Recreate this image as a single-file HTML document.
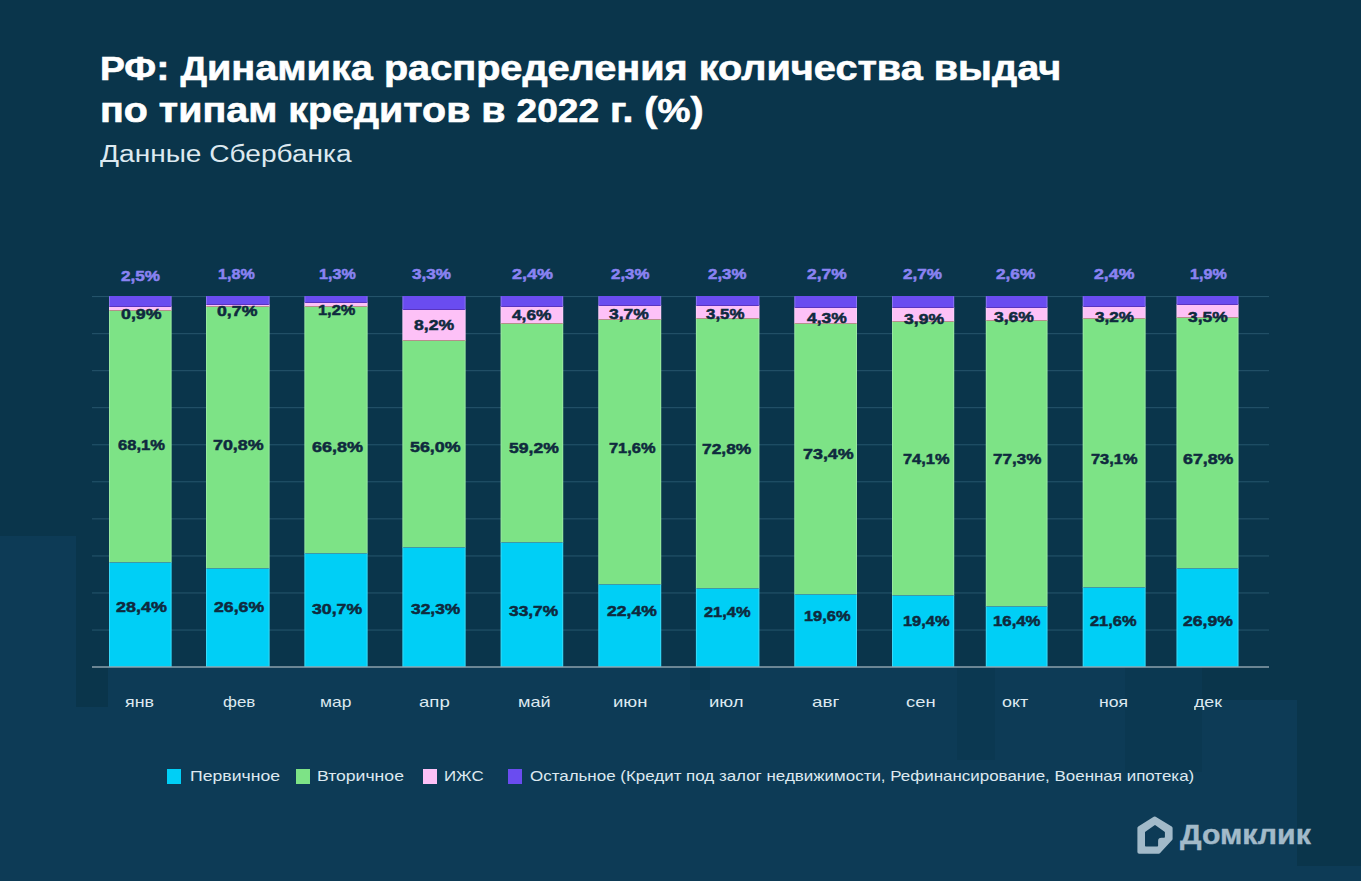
<!DOCTYPE html>
<html><head><meta charset="utf-8"><style>
html,body{margin:0;padding:0;}
body{width:1361px;height:881px;overflow:hidden;background:#0a354b;position:relative;font-family:"Liberation Sans",sans-serif;}
svg{position:absolute;left:0;top:0;}
.cp{font-size:0.94em;}
.tx{position:absolute;line-height:40px;white-space:nowrap;transform-origin:0 0;}
.sq{position:absolute;top:769px;width:14px;height:14.5px;}
</style></head><body>
<svg width="1361" height="881" viewBox="0 0 1361 881">
<rect x="0" y="536" width="76" height="345" fill="#0d3b56"/><rect x="76" y="707" width="1126" height="174" fill="#0d3b56"/><rect x="108" y="667" width="1094" height="40" fill="#0d3b56"/><rect x="1202" y="700" width="95" height="181" fill="#0d3b56"/><rect x="1297" y="866" width="64" height="15" fill="#0d3b56"/><rect x="957" y="667" width="38" height="93" fill="#0b3851"/><rect x="1125" y="667" width="77" height="105" fill="#0b3851"/><rect x="690" y="667" width="20" height="23" fill="#0b3851"/><rect x="92" y="296.0" width="1177" height="1.1" fill="#24536a"/><rect x="92" y="333.1" width="1177" height="1.1" fill="#24536a"/><rect x="92" y="370.1" width="1177" height="1.1" fill="#24536a"/><rect x="92" y="407.1" width="1177" height="1.1" fill="#24536a"/><rect x="92" y="444.2" width="1177" height="1.1" fill="#24536a"/><rect x="92" y="481.2" width="1177" height="1.1" fill="#24536a"/><rect x="92" y="518.3" width="1177" height="1.1" fill="#24536a"/><rect x="92" y="555.4" width="1177" height="1.1" fill="#24536a"/><rect x="92" y="592.4" width="1177" height="1.1" fill="#24536a"/><rect x="92" y="629.5" width="1177" height="1.1" fill="#24536a"/><rect x="109" y="562" width="62.6" height="105" fill="#00cff6"/><rect x="109" y="310" width="62.6" height="252" fill="#7de386"/><rect x="109" y="306" width="62.6" height="4" fill="#fdc1f7"/><rect x="109" y="296" width="62.6" height="10" fill="#6a4cf0"/><rect x="109" y="562" width="62.6" height="1" fill="#3d9aa6"/><rect x="109" y="310" width="62.6" height="1" fill="#b58f8a"/><rect x="109" y="306" width="62.6" height="1" fill="#5a34c0"/><rect x="109" y="296.5" width="1" height="370.0" fill="#ffffff" fill-opacity="0.22"/><rect x="170.6" y="296.5" width="1" height="370.0" fill="#ffffff" fill-opacity="0.22"/><rect x="206" y="568" width="63.6" height="99" fill="#00cff6"/><rect x="206" y="306" width="63.6" height="262" fill="#7de386"/><rect x="206" y="304" width="63.6" height="2" fill="#fdc1f7"/><rect x="206" y="296" width="63.6" height="8" fill="#6a4cf0"/><rect x="206" y="568" width="63.6" height="1" fill="#3d9aa6"/><rect x="206" y="306" width="63.6" height="1" fill="#b58f8a"/><rect x="206" y="304" width="63.6" height="1" fill="#5a34c0"/><rect x="206" y="296.5" width="1" height="370.0" fill="#ffffff" fill-opacity="0.22"/><rect x="268.6" y="296.5" width="1" height="370.0" fill="#ffffff" fill-opacity="0.22"/><rect x="304.4" y="553" width="63.2" height="114" fill="#00cff6"/><rect x="304.4" y="306" width="63.2" height="247" fill="#7de386"/><rect x="304.4" y="302" width="63.2" height="4" fill="#fdc1f7"/><rect x="304.4" y="296" width="63.2" height="6" fill="#6a4cf0"/><rect x="304.4" y="553" width="63.2" height="1" fill="#3d9aa6"/><rect x="304.4" y="306" width="63.2" height="1" fill="#b58f8a"/><rect x="304.4" y="302" width="63.2" height="1" fill="#5a34c0"/><rect x="304.4" y="296.5" width="1" height="370.0" fill="#ffffff" fill-opacity="0.22"/><rect x="366.6" y="296.5" width="1" height="370.0" fill="#ffffff" fill-opacity="0.22"/><rect x="402.4" y="547" width="63.2" height="120" fill="#00cff6"/><rect x="402.4" y="340" width="63.2" height="207" fill="#7de386"/><rect x="402.4" y="309" width="63.2" height="31" fill="#fdc1f7"/><rect x="402.4" y="296" width="63.2" height="13" fill="#6a4cf0"/><rect x="402.4" y="547" width="63.2" height="1" fill="#3d9aa6"/><rect x="402.4" y="340" width="63.2" height="1" fill="#b58f8a"/><rect x="402.4" y="309" width="63.2" height="1" fill="#5a34c0"/><rect x="402.4" y="296.5" width="1" height="370.0" fill="#ffffff" fill-opacity="0.22"/><rect x="464.6" y="296.5" width="1" height="370.0" fill="#ffffff" fill-opacity="0.22"/><rect x="500.6" y="542" width="62.6" height="125" fill="#00cff6"/><rect x="500.6" y="323" width="62.6" height="219" fill="#7de386"/><rect x="500.6" y="306" width="62.6" height="17" fill="#fdc1f7"/><rect x="500.6" y="296" width="62.6" height="10" fill="#6a4cf0"/><rect x="500.6" y="542" width="62.6" height="1" fill="#3d9aa6"/><rect x="500.6" y="323" width="62.6" height="1" fill="#b58f8a"/><rect x="500.6" y="306" width="62.6" height="1" fill="#5a34c0"/><rect x="500.6" y="296.5" width="1" height="370.0" fill="#ffffff" fill-opacity="0.22"/><rect x="562.2" y="296.5" width="1" height="370.0" fill="#ffffff" fill-opacity="0.22"/><rect x="598.3" y="584" width="62.9" height="83" fill="#00cff6"/><rect x="598.3" y="319" width="62.9" height="265" fill="#7de386"/><rect x="598.3" y="305" width="62.9" height="14" fill="#fdc1f7"/><rect x="598.3" y="296" width="62.9" height="9" fill="#6a4cf0"/><rect x="598.3" y="584" width="62.9" height="1" fill="#3d9aa6"/><rect x="598.3" y="319" width="62.9" height="1" fill="#b58f8a"/><rect x="598.3" y="305" width="62.9" height="1" fill="#5a34c0"/><rect x="598.3" y="296.5" width="1" height="370.0" fill="#ffffff" fill-opacity="0.22"/><rect x="660.2" y="296.5" width="1" height="370.0" fill="#ffffff" fill-opacity="0.22"/><rect x="695.9" y="588" width="63.5" height="79" fill="#00cff6"/><rect x="695.9" y="318" width="63.5" height="270" fill="#7de386"/><rect x="695.9" y="305" width="63.5" height="13" fill="#fdc1f7"/><rect x="695.9" y="296" width="63.5" height="9" fill="#6a4cf0"/><rect x="695.9" y="588" width="63.5" height="1" fill="#3d9aa6"/><rect x="695.9" y="318" width="63.5" height="1" fill="#b58f8a"/><rect x="695.9" y="305" width="63.5" height="1" fill="#5a34c0"/><rect x="695.9" y="296.5" width="1" height="370.0" fill="#ffffff" fill-opacity="0.22"/><rect x="758.4" y="296.5" width="1" height="370.0" fill="#ffffff" fill-opacity="0.22"/><rect x="794.3" y="594" width="62.7" height="73" fill="#00cff6"/><rect x="794.3" y="323" width="62.7" height="271" fill="#7de386"/><rect x="794.3" y="307" width="62.7" height="16" fill="#fdc1f7"/><rect x="794.3" y="296" width="62.7" height="11" fill="#6a4cf0"/><rect x="794.3" y="594" width="62.7" height="1" fill="#3d9aa6"/><rect x="794.3" y="323" width="62.7" height="1" fill="#b58f8a"/><rect x="794.3" y="307" width="62.7" height="1" fill="#5a34c0"/><rect x="794.3" y="296.5" width="1" height="370.0" fill="#ffffff" fill-opacity="0.22"/><rect x="856.0" y="296.5" width="1" height="370.0" fill="#ffffff" fill-opacity="0.22"/><rect x="892" y="595" width="62.2" height="72" fill="#00cff6"/><rect x="892" y="321" width="62.2" height="274" fill="#7de386"/><rect x="892" y="307" width="62.2" height="14" fill="#fdc1f7"/><rect x="892" y="296" width="62.2" height="11" fill="#6a4cf0"/><rect x="892" y="595" width="62.2" height="1" fill="#3d9aa6"/><rect x="892" y="321" width="62.2" height="1" fill="#b58f8a"/><rect x="892" y="307" width="62.2" height="1" fill="#5a34c0"/><rect x="892" y="296.5" width="1" height="370.0" fill="#ffffff" fill-opacity="0.22"/><rect x="953.2" y="296.5" width="1" height="370.0" fill="#ffffff" fill-opacity="0.22"/><rect x="985.8" y="606" width="61.7" height="61" fill="#00cff6"/><rect x="985.8" y="320" width="61.7" height="286" fill="#7de386"/><rect x="985.8" y="307" width="61.7" height="13" fill="#fdc1f7"/><rect x="985.8" y="296" width="61.7" height="11" fill="#6a4cf0"/><rect x="985.8" y="606" width="61.7" height="1" fill="#3d9aa6"/><rect x="985.8" y="320" width="61.7" height="1" fill="#b58f8a"/><rect x="985.8" y="307" width="61.7" height="1" fill="#5a34c0"/><rect x="985.8" y="296.5" width="1" height="370.0" fill="#ffffff" fill-opacity="0.22"/><rect x="1046.5" y="296.5" width="1" height="370.0" fill="#ffffff" fill-opacity="0.22"/><rect x="1082.7" y="587" width="62.9" height="80" fill="#00cff6"/><rect x="1082.7" y="318" width="62.9" height="269" fill="#7de386"/><rect x="1082.7" y="306" width="62.9" height="12" fill="#fdc1f7"/><rect x="1082.7" y="296" width="62.9" height="10" fill="#6a4cf0"/><rect x="1082.7" y="587" width="62.9" height="1" fill="#3d9aa6"/><rect x="1082.7" y="318" width="62.9" height="1" fill="#b58f8a"/><rect x="1082.7" y="306" width="62.9" height="1" fill="#5a34c0"/><rect x="1082.7" y="296.5" width="1" height="370.0" fill="#ffffff" fill-opacity="0.22"/><rect x="1144.6" y="296.5" width="1" height="370.0" fill="#ffffff" fill-opacity="0.22"/><rect x="1176.5" y="568" width="62.0" height="99" fill="#00cff6"/><rect x="1176.5" y="317" width="62.0" height="251" fill="#7de386"/><rect x="1176.5" y="304" width="62.0" height="13" fill="#fdc1f7"/><rect x="1176.5" y="296" width="62.0" height="8" fill="#6a4cf0"/><rect x="1176.5" y="568" width="62.0" height="1" fill="#3d9aa6"/><rect x="1176.5" y="317" width="62.0" height="1" fill="#b58f8a"/><rect x="1176.5" y="304" width="62.0" height="1" fill="#5a34c0"/><rect x="1176.5" y="296.5" width="1" height="370.0" fill="#ffffff" fill-opacity="0.22"/><rect x="1237.5" y="296.5" width="1" height="370.0" fill="#ffffff" fill-opacity="0.22"/><rect x="92" y="666.3" width="1177" height="1.4" fill="#94a8b2"/>
</svg>
<svg style="position:absolute;left:0;top:0" width="1361" height="881">
<path fill="#a2bac9" stroke="#a2bac9" stroke-width="3.6" stroke-linejoin="round" d="M1154.7 818.3 L1170.8 828.1 L1170.8 838.8 L1158.8 851.9 L1139.2 851.9 L1139.2 828.1 Z"/>
<path fill="#0d3b56" stroke="#0d3b56" stroke-width="1.6" stroke-linejoin="round" d="M1155 825.9 L1145.8 832.3 L1145.8 845.8 L1157.3 845.8 L1157.3 841 Q1157.3 837 1161.5 837 L1164.1 837 L1164.1 832.3 Z"/>
</svg>
<div class="tx" style="left:99.70px;top:48.00px;font-size:34.5px;font-weight:bold;color:#ffffff;transform:scaleX(1.1490);-webkit-text-stroke:0.6px #ffffff"><span class="cp">РФ</span>: <span class="cp">Д</span>инамика распределения количества выдач</div><div class="tx" style="left:99.71px;top:90.00px;font-size:34.5px;font-weight:bold;color:#ffffff;transform:scaleX(1.1429);-webkit-text-stroke:0.6px #ffffff">по типам кредитов в <span class="cp">2022</span> г. (<span class="cp">%</span>)</div><div class="tx" style="left:100.00px;top:134.00px;font-size:23px;font-weight:normal;color:#dde9f0;transform:scaleX(1.2209)">Данные Сбербанка</div><div class="tx" style="left:121.16px;top:256.00px;font-size:15px;font-weight:bold;color:#8a83f2;transform:scaleX(1.1424);-webkit-text-stroke:0.5px #8a83f2">2,5%</div><div class="tx" style="left:120.62px;top:293.60px;font-size:15px;font-weight:bold;color:#0f2a3e;transform:scaleX(1.1848);-webkit-text-stroke:0.5px #0f2a3e">0,9%</div><div class="tx" style="left:118.40px;top:425.10px;font-size:15px;font-weight:bold;color:#0f2a3e;transform:scaleX(1.1049);-webkit-text-stroke:0.5px #0f2a3e">68,1%</div><div class="tx" style="left:116.10px;top:587.30px;font-size:15px;font-weight:bold;color:#0f2a3e;transform:scaleX(1.1976);-webkit-text-stroke:0.5px #0f2a3e">28,4%</div><div class="tx" style="left:124.51px;top:682.00px;font-size:15px;font-weight:normal;color:#dde9f0;transform:scaleX(1.1870)">янв</div><div class="tx" style="left:217.52px;top:254.00px;font-size:15px;font-weight:bold;color:#8a83f2;transform:scaleX(1.0758);-webkit-text-stroke:0.5px #8a83f2">1,8%</div><div class="tx" style="left:216.82px;top:290.80px;font-size:15px;font-weight:bold;color:#0f2a3e;transform:scaleX(1.1818);-webkit-text-stroke:0.5px #0f2a3e">0,7%</div><div class="tx" style="left:213.31px;top:425.00px;font-size:15px;font-weight:bold;color:#0f2a3e;transform:scaleX(1.1902);-webkit-text-stroke:0.5px #0f2a3e">70,8%</div><div class="tx" style="left:213.82px;top:587.30px;font-size:15px;font-weight:bold;color:#0f2a3e;transform:scaleX(1.1780);-webkit-text-stroke:0.5px #0f2a3e">26,6%</div><div class="tx" style="left:222.80px;top:682.00px;font-size:15px;font-weight:normal;color:#dde9f0;transform:scaleX(1.1276)">фев</div><div class="tx" style="left:318.76px;top:254.00px;font-size:15px;font-weight:bold;color:#8a83f2;transform:scaleX(1.0739);-webkit-text-stroke:0.5px #8a83f2">1,3%</div><div class="tx" style="left:318.41px;top:290.30px;font-size:15px;font-weight:bold;color:#0f2a3e;transform:scaleX(1.0938);-webkit-text-stroke:0.5px #0f2a3e">1,2%</div><div class="tx" style="left:311.50px;top:426.50px;font-size:15px;font-weight:bold;color:#0f2a3e;transform:scaleX(1.2000);-webkit-text-stroke:0.5px #0f2a3e">66,8%</div><div class="tx" style="left:311.52px;top:588.70px;font-size:15px;font-weight:bold;color:#0f2a3e;transform:scaleX(1.1780);-webkit-text-stroke:0.5px #0f2a3e">30,7%</div><div class="tx" style="left:319.94px;top:682.00px;font-size:15px;font-weight:normal;color:#dde9f0;transform:scaleX(1.1615)">мар</div><div class="tx" style="left:411.56px;top:254.00px;font-size:15px;font-weight:bold;color:#8a83f2;transform:scaleX(1.1424);-webkit-text-stroke:0.5px #8a83f2">3,3%</div><div class="tx" style="left:414.02px;top:304.50px;font-size:15px;font-weight:bold;color:#0f2a3e;transform:scaleX(1.1758);-webkit-text-stroke:0.5px #0f2a3e">8,2%</div><div class="tx" style="left:410.11px;top:426.50px;font-size:15px;font-weight:bold;color:#0f2a3e;transform:scaleX(1.1902);-webkit-text-stroke:0.5px #0f2a3e">56,0%</div><div class="tx" style="left:410.94px;top:588.70px;font-size:15px;font-weight:bold;color:#0f2a3e;transform:scaleX(1.1585);-webkit-text-stroke:0.5px #0f2a3e">32,3%</div><div class="tx" style="left:419.26px;top:682.00px;font-size:15px;font-weight:normal;color:#dde9f0;transform:scaleX(1.2391)">апр</div><div class="tx" style="left:512.30px;top:254.00px;font-size:15px;font-weight:bold;color:#8a83f2;transform:scaleX(1.2000);-webkit-text-stroke:0.5px #8a83f2">2,4%</div><div class="tx" style="left:512.00px;top:295.00px;font-size:15px;font-weight:bold;color:#0f2a3e;transform:scaleX(1.1529);-webkit-text-stroke:0.5px #0f2a3e">4,6%</div><div class="tx" style="left:509.03px;top:427.90px;font-size:15px;font-weight:bold;color:#0f2a3e;transform:scaleX(1.1707);-webkit-text-stroke:0.5px #0f2a3e">59,2%</div><div class="tx" style="left:509.04px;top:590.70px;font-size:15px;font-weight:bold;color:#0f2a3e;transform:scaleX(1.1561);-webkit-text-stroke:0.5px #0f2a3e">33,7%</div><div class="tx" style="left:517.90px;top:682.00px;font-size:15px;font-weight:normal;color:#dde9f0;transform:scaleX(1.2040)">май</div><div class="tx" style="left:611.48px;top:254.00px;font-size:15px;font-weight:bold;color:#8a83f2;transform:scaleX(1.1242);-webkit-text-stroke:0.5px #8a83f2">2,3%</div><div class="tx" style="left:608.63px;top:294.20px;font-size:15px;font-weight:bold;color:#0f2a3e;transform:scaleX(1.1667);-webkit-text-stroke:0.5px #0f2a3e">3,7%</div><div class="tx" style="left:608.63px;top:427.90px;font-size:15px;font-weight:bold;color:#0f2a3e;transform:scaleX(1.0938);-webkit-text-stroke:0.5px #0f2a3e">71,6%</div><div class="tx" style="left:606.73px;top:590.70px;font-size:15px;font-weight:bold;color:#0f2a3e;transform:scaleX(1.1707);-webkit-text-stroke:0.5px #0f2a3e">22,4%</div><div class="tx" style="left:612.77px;top:682.00px;font-size:15px;font-weight:normal;color:#dde9f0;transform:scaleX(1.2346)">июн</div><div class="tx" style="left:708.38px;top:254.00px;font-size:15px;font-weight:bold;color:#8a83f2;transform:scaleX(1.1242);-webkit-text-stroke:0.5px #8a83f2">2,3%</div><div class="tx" style="left:706.37px;top:294.20px;font-size:15px;font-weight:bold;color:#0f2a3e;transform:scaleX(1.1273);-webkit-text-stroke:0.5px #0f2a3e">3,5%</div><div class="tx" style="left:702.14px;top:429.30px;font-size:15px;font-weight:bold;color:#0f2a3e;transform:scaleX(1.1585);-webkit-text-stroke:0.5px #0f2a3e">72,8%</div><div class="tx" style="left:703.53px;top:591.50px;font-size:15px;font-weight:bold;color:#0f2a3e;transform:scaleX(1.0938);-webkit-text-stroke:0.5px #0f2a3e">21,4%</div><div class="tx" style="left:709.07px;top:682.00px;font-size:15px;font-weight:normal;color:#dde9f0;transform:scaleX(1.2346)">июл</div><div class="tx" style="left:806.84px;top:254.00px;font-size:15px;font-weight:bold;color:#8a83f2;transform:scaleX(1.1606);-webkit-text-stroke:0.5px #8a83f2">2,7%</div><div class="tx" style="left:806.60px;top:297.80px;font-size:15px;font-weight:bold;color:#0f2a3e;transform:scaleX(1.1676);-webkit-text-stroke:0.5px #0f2a3e">4,3%</div><div class="tx" style="left:802.61px;top:434.00px;font-size:15px;font-weight:bold;color:#0f2a3e;transform:scaleX(1.1927);-webkit-text-stroke:0.5px #0f2a3e">73,4%</div><div class="tx" style="left:804.43px;top:596.30px;font-size:15px;font-weight:bold;color:#0f2a3e;transform:scaleX(1.0938);-webkit-text-stroke:0.5px #0f2a3e">19,6%</div><div class="tx" style="left:811.54px;top:682.00px;font-size:15px;font-weight:normal;color:#dde9f0;transform:scaleX(1.2550)">авг</div><div class="tx" style="left:902.56px;top:254.00px;font-size:15px;font-weight:bold;color:#8a83f2;transform:scaleX(1.1424);-webkit-text-stroke:0.5px #8a83f2">2,7%</div><div class="tx" style="left:903.83px;top:298.60px;font-size:15px;font-weight:bold;color:#0f2a3e;transform:scaleX(1.1697);-webkit-text-stroke:0.5px #0f2a3e">3,9%</div><div class="tx" style="left:902.53px;top:439.10px;font-size:15px;font-weight:bold;color:#0f2a3e;transform:scaleX(1.0938);-webkit-text-stroke:0.5px #0f2a3e">74,1%</div><div class="tx" style="left:902.53px;top:601.30px;font-size:15px;font-weight:bold;color:#0f2a3e;transform:scaleX(1.0938);-webkit-text-stroke:0.5px #0f2a3e">19,4%</div><div class="tx" style="left:906.17px;top:682.00px;font-size:15px;font-weight:normal;color:#dde9f0;transform:scaleX(1.2273)">сен</div><div class="tx" style="left:996.05px;top:254.00px;font-size:15px;font-weight:bold;color:#8a83f2;transform:scaleX(1.1455);-webkit-text-stroke:0.5px #8a83f2">2,6%</div><div class="tx" style="left:993.83px;top:297.00px;font-size:15px;font-weight:bold;color:#0f2a3e;transform:scaleX(1.1667);-webkit-text-stroke:0.5px #0f2a3e">3,6%</div><div class="tx" style="left:992.76px;top:439.10px;font-size:15px;font-weight:bold;color:#0f2a3e;transform:scaleX(1.1366);-webkit-text-stroke:0.5px #0f2a3e">77,3%</div><div class="tx" style="left:992.78px;top:601.30px;font-size:15px;font-weight:bold;color:#0f2a3e;transform:scaleX(1.1171);-webkit-text-stroke:0.5px #0f2a3e">16,4%</div><div class="tx" style="left:1002.20px;top:682.00px;font-size:15px;font-weight:normal;color:#dde9f0;transform:scaleX(1.1952)">окт</div><div class="tx" style="left:1093.82px;top:254.00px;font-size:15px;font-weight:bold;color:#8a83f2;transform:scaleX(1.1818);-webkit-text-stroke:0.5px #8a83f2">2,4%</div><div class="tx" style="left:1095.26px;top:297.00px;font-size:15px;font-weight:bold;color:#0f2a3e;transform:scaleX(1.1394);-webkit-text-stroke:0.5px #0f2a3e">3,2%</div><div class="tx" style="left:1090.73px;top:439.10px;font-size:15px;font-weight:bold;color:#0f2a3e;transform:scaleX(1.0938);-webkit-text-stroke:0.5px #0f2a3e">73,1%</div><div class="tx" style="left:1090.28px;top:601.30px;font-size:15px;font-weight:bold;color:#0f2a3e;transform:scaleX(1.0938);-webkit-text-stroke:0.5px #0f2a3e">21,6%</div><div class="tx" style="left:1098.83px;top:682.00px;font-size:15px;font-weight:normal;color:#dde9f0;transform:scaleX(1.1739)">ноя</div><div class="tx" style="left:1189.96px;top:254.00px;font-size:15px;font-weight:bold;color:#8a83f2;transform:scaleX(1.0739);-webkit-text-stroke:0.5px #8a83f2">1,9%</div><div class="tx" style="left:1188.14px;top:297.00px;font-size:15px;font-weight:bold;color:#0f2a3e;transform:scaleX(1.1606);-webkit-text-stroke:0.5px #0f2a3e">3,5%</div><div class="tx" style="left:1182.51px;top:439.10px;font-size:15px;font-weight:bold;color:#0f2a3e;transform:scaleX(1.1854);-webkit-text-stroke:0.5px #0f2a3e">67,8%</div><div class="tx" style="left:1182.53px;top:601.30px;font-size:15px;font-weight:bold;color:#0f2a3e;transform:scaleX(1.1732);-webkit-text-stroke:0.5px #0f2a3e">26,9%</div><div class="tx" style="left:1194.00px;top:682.00px;font-size:15px;font-weight:normal;color:#dde9f0;transform:scaleX(1.1826)">дек</div><div class="tx" style="left:190.08px;top:755.70px;font-size:14.5px;font-weight:normal;color:#dde9f0;transform:scaleX(1.2153)">Первичное</div><div class="tx" style="left:317.09px;top:755.70px;font-size:14.5px;font-weight:normal;color:#dde9f0;transform:scaleX(1.2143)">Вторичное</div><div class="tx" style="left:443.84px;top:755.70px;font-size:14.5px;font-weight:normal;color:#dde9f0;transform:scaleX(1.1625)">ИЖС</div><div class="tx" style="left:529.73px;top:755.70px;font-size:14.5px;font-weight:normal;color:#dde9f0;transform:scaleX(1.1687)">Остальное (Кредит под залог недвижимости, Рефинансирование, Военная ипотека)</div><div class="tx" style="left:1179.80px;top:815.30px;font-size:27px;font-weight:bold;color:#a2bac9;transform:scaleX(1.1197);-webkit-text-stroke:0.4px #a2bac9">Домклик</div>
<div class="sq" style="left:167px;background:#00cff6"></div>
<div class="sq" style="left:296px;background:#7de386"></div>
<div class="sq" style="left:423px;background:#fdc1f7"></div>
<div class="sq" style="left:507.5px;background:#6a4cf0"></div>
</body></html>
